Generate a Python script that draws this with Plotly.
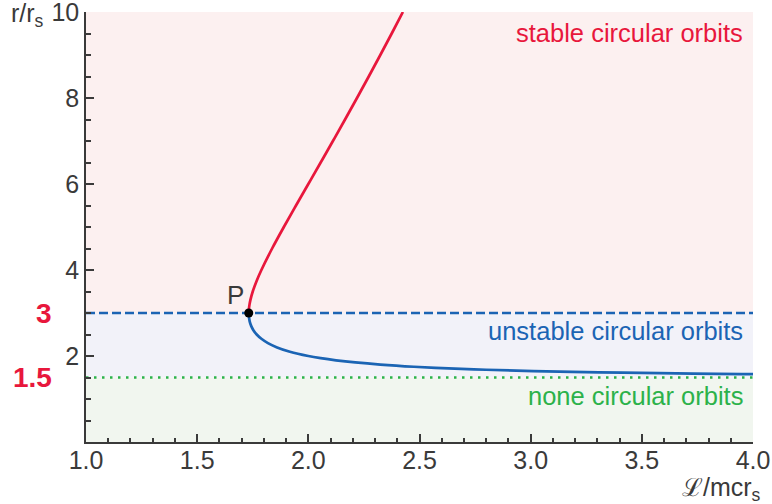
import plotly.graph_objects as go

# Stable branch (red): L/mcr_s vs r/r_s
stable_L = [1.732, 1.7323, 1.7329, 1.7355, 1.7393, 1.75, 1.7678, 1.7889, 1.8371, 1.8898,
            1.9445, 2.0, 2.0555, 2.1106, 2.1651, 2.2188, 2.2717, 2.3238, 2.375, 2.4254]
stable_r = [3.0, 3.05, 3.1, 3.2, 3.3, 3.5, 3.75, 4.0, 4.5, 5.0,
            5.5, 6.0, 6.5, 7.0, 7.5, 8.0, 8.5, 9.0, 9.5, 10.0]

# Unstable branch (blue)
unstable_L = [1.732, 1.7323, 1.7331, 1.7364, 1.7428, 1.7529, 1.7678, 1.7889, 1.8183, 1.8594,
              1.9171, 2.0, 2.0555, 2.1243, 2.2111, 2.3238, 2.4749, 2.6879, 2.8, 3.0125,
              3.3068, 3.5777, 3.95, 4.0]
unstable_r = [3.0, 2.95, 2.9, 2.8, 2.7, 2.6, 2.5, 2.4, 2.3, 2.2,
              2.1, 2.0, 1.95, 1.9, 1.85, 1.8, 1.75, 1.7, 1.68, 1.65,
              1.62, 1.6, 1.58, 1.578]

photon_r = 3.0        # dashed boundary
limit_r = 1.5         # dotted boundary
point_P = (1.732, 3.0)
x_min, x_max = 1.0, 4.0
y_min, y_max = 0.0, 10.0

x_ticks = [1.0, 1.5, 2.0, 2.5, 3.0, 3.5, 4.0]
y_ticks = [2, 4, 6, 8, 10]

RED = "#e8173c"
BLUE = "#1b64b4"
GREEN = "#2cb24a"
GRAY = "#3a3a3a"
FONT = "Liberation Sans"
TICK_SIZE = 25
LABEL_SIZE = 25.5

fig = go.Figure()

# background bands
fig.add_shape(type="rect", xref="x", yref="y", x0=x_min, x1=x_max, y0=photon_r, y1=y_max,
              fillcolor="#fcf0f0", line_width=0, layer="below")
fig.add_shape(type="rect", xref="x", yref="y", x0=x_min, x1=x_max, y0=limit_r, y1=photon_r,
              fillcolor="#f2f2f9", line_width=0, layer="below")
fig.add_shape(type="rect", xref="x", yref="y", x0=x_min, x1=x_max, y0=y_min, y1=limit_r,
              fillcolor="#f1f6ef", line_width=0, layer="below")

# boundary lines
fig.add_trace(go.Scatter(x=[x_min, x_max], y=[photon_r, photon_r], mode="lines",
                         line=dict(color=BLUE, width=2.7, dash="9px,4px"), hoverinfo="skip"))
fig.add_trace(go.Scatter(x=[x_min, x_max], y=[limit_r, limit_r], mode="lines",
                         line=dict(color=GREEN, width=2.7, dash="2.5px,5.5px"), hoverinfo="skip"))

# curves
fig.add_trace(go.Scatter(x=stable_L, y=stable_r, mode="lines",
                         line=dict(color=RED, width=2.7, shape="spline")))
fig.add_trace(go.Scatter(x=unstable_L, y=unstable_r, mode="lines",
                         line=dict(color=BLUE, width=2.7, shape="spline")))
fig.add_trace(go.Scatter(x=[point_P[0]], y=[point_P[1]], mode="markers",
                         marker=dict(color="black", size=9)))

annotations = [
    dict(x=point_P[0], y=point_P[1], xref="x", yref="y", text="P", showarrow=False,
         xshift=-13, yshift=18, font=dict(family=FONT, size=26, color=GRAY)),
    dict(x=1, y=9.52, xref="paper", yref="y", text="stable circular orbits", showarrow=False,
         xanchor="right", xshift=-8, font=dict(family=FONT, size=LABEL_SIZE, color=RED)),
    dict(x=1, y=2.58, xref="paper", yref="y", text="unstable circular orbits", showarrow=False,
         xanchor="right", xshift=-8, font=dict(family=FONT, size=LABEL_SIZE, color=BLUE)),
    dict(x=1, y=1.07, xref="paper", yref="y", text="none circular orbits", showarrow=False,
         xanchor="right", xshift=-8, font=dict(family=FONT, size=LABEL_SIZE, color=GREEN)),
    dict(x=0, y=photon_r, xref="paper", yref="y", text="<b>3</b>", showarrow=False,
         xanchor="right", xshift=-32, font=dict(family=FONT, size=28, color=RED)),
    dict(x=0, y=limit_r, xref="paper", yref="y", text="<b>1.5</b>", showarrow=False,
         xanchor="right", xshift=-32, font=dict(family=FONT, size=28, color=RED)),
    dict(x=0, y=y_max, xref="paper", yref="y", text="r/r<sub>s</sub>", showarrow=False,
         xanchor="right", xshift=-40, yshift=-3, font=dict(family=FONT, size=TICK_SIZE, color=GRAY)),
    dict(x=1, y=0, xref="paper", yref="paper", text="ℒ/mcr<sub>s</sub>", showarrow=False,
         xanchor="right", yanchor="middle", xshift=10, yshift=-47,
         font=dict(family=FONT, size=TICK_SIZE, color=GRAY)),
]

fig.update_layout(
    width=772, height=504,
    margin=dict(l=86, r=19, t=12, b=62, autoexpand=False),
    paper_bgcolor="white", plot_bgcolor="white",
    showlegend=False,
    annotations=annotations,
    font=dict(family=FONT, size=TICK_SIZE, color=GRAY),
)
fig.update_xaxes(range=[x_min, x_max], showgrid=False, zeroline=False, automargin=False,
                 showline=True, linecolor=GRAY, linewidth=1.5, mirror=False,
                 tickmode="array", tickvals=x_ticks, ticktext=[f"{v:.1f}" for v in x_ticks],
                 ticks="inside", ticklen=8, tickwidth=1.5, tickcolor=GRAY,
                 ticklabeloverflow="allow", ticklabelstandoff=-5,
                 tickfont=dict(family=FONT, size=TICK_SIZE, color=GRAY),
                 minor=dict(ticks="inside", ticklen=4, tickwidth=1.5, tickcolor=GRAY,
                            tickmode="linear", tick0=1.0, dtick=0.1))
fig.update_yaxes(range=[y_min, y_max], showgrid=False, zeroline=False, automargin=False,
                 showline=True, linecolor=GRAY, linewidth=1.5, mirror=False,
                 tickmode="array", tickvals=y_ticks,
                 ticks="inside", ticklen=8, tickwidth=1.5, tickcolor=GRAY,
                 ticklabeloverflow="allow",
                 tickfont=dict(family=FONT, size=TICK_SIZE, color=GRAY),
                 minor=dict(ticks="inside", ticklen=5, tickwidth=1.5, tickcolor=GRAY,
                            tickmode="linear", tick0=0, dtick=0.5))

fig.write_html("out.html", config={"displayModeBar": False},
               post_script="document.body.style.margin='0';document.body.style.padding='0';")
